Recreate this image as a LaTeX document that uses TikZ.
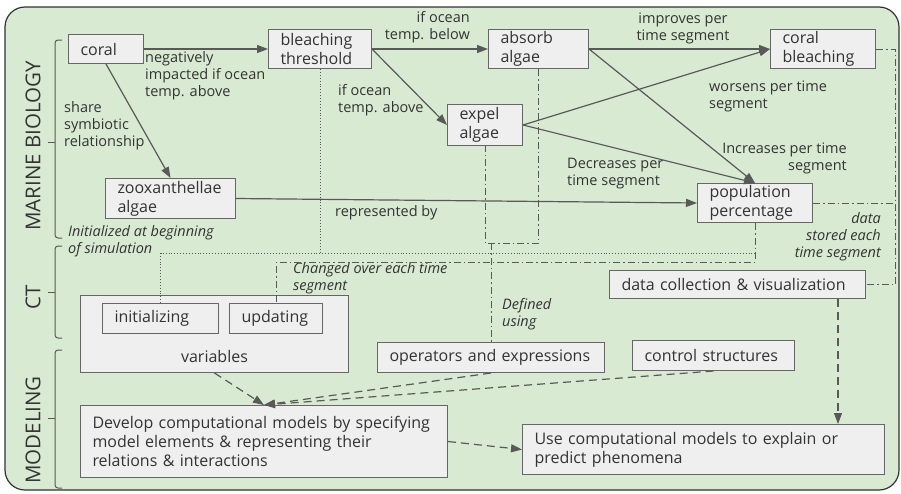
\documentclass[tikz,border=0pt]{standalone}
\usepackage{fontspec}
\setmainfont{Open Sans}
\usetikzlibrary{arrows.meta,positioning}

\definecolor{bgfill}{HTML}{D9EAD3}
\definecolor{boxfill}{HTML}{EFEFEF}
\definecolor{boxline}{HTML}{666666}
\definecolor{linkgray}{HTML}{595959}
\definecolor{textgray}{HTML}{333333}

\begin{document}
\begin{tikzpicture}[x=1pt, y=-1pt, % pixel grid, y grows downwards
    box/.style={draw=boxline, line width=1pt, fill=boxfill, anchor=north west,
      inner xsep=12pt, inner ysep=0pt, align=left, text=textgray,
      font=\fontsize{16}{19}\selectfont},
    lbl/.style={inner sep=0pt, align=left, text=textgray,
      font=\fontsize{14.5}{17}\selectfont},
    note/.style={lbl, font=\fontsize{14.5}{17}\selectfont\itshape},
    side/.style={inner sep=0pt, rotate=90, text=textgray,
      font=\fontsize{20.5}{24}\selectfont},
    link/.style={draw=linkgray, line width=1.2pt, -{Triangle[length=11pt,width=8pt]}},
    dlink/.style={link, dash pattern=on 8pt off 5pt},
    dotlink/.style={draw=linkgray, line width=0.9pt, dotted},
    dashdot/.style={draw=linkgray, line width=0.9pt, dash pattern=on 7pt off 3pt on 1.5pt off 3pt},
    brace/.style={draw=linkgray, line width=1pt, rounded corners=3pt}
  ]

  \useasboundingbox (0,0) rectangle (901,493);

  % Background panel
  \draw[fill=bgfill, draw=textgray, line width=1.2pt, rounded corners=20pt] (5,7) rectangle (899,490);

  % Side labels and braces
  \node[side] (mbio) at (33,146) {MARINE BIOLOGY};
  \node[side] (ct)   at (33,297) {CT};
  \node[side] (mdl)  at (33,430) {MODELING};

  \draw[brace] (62,40) -- (55,40) -- (55,238) -- (62,238);
  \draw[brace] (55,142) -- (48,142);
  \draw[brace] (62,246) -- (55,246) -- (55,338) -- (62,338);
  \draw[brace] (55,292) -- (48,292);
  \draw[brace] (62,350) -- (55,350) -- (55,488) -- (62,488);
  \draw[brace] (55,418) -- (48,418);

  % Marine biology boxes
  \node[box, text width=51pt, minimum height=29pt] (coral) at (68,34) {coral};
  \node[box, text width=79pt, minimum height=39pt] (bthr) at (268,29) {bleaching\\threshold};
  \node[box, text width=76pt, minimum height=39pt] (absorb) at (488,29) {absorb\\algae};
  \node[box, text width=81pt, minimum height=39pt] (cblch) at (770,29) {coral\\bleaching};
  \node[box, text width=51pt, minimum height=41pt] (expel) at (447,104) {expel\\algae};
  \node[box, text width=106pt, minimum height=40pt] (zoox) at (105,178) {zooxanthellae\\algae};
  \node[box, text width=91pt, minimum height=39pt] (pop) at (697,183) {population\\percentage};

  % CT boxes
  \node[box, text width=232pt, minimum height=28pt] (dcv) at (609,270) {data collection \& visualization};
  \node[box, minimum width=268pt, minimum height=77pt] (vars) at (80,295) {};
  \node[lbl, above=10pt of vars.south] (varslbl) {\fontsize{16}{19}\selectfont variables};
  \node[box, text width=92pt, minimum height=30pt] (init) at (102,303) {initializing};
  \node[box, text width=69pt, minimum height=30pt] (upd) at (229,303) {updating};
  \node[box, text width=203pt, minimum height=30pt] (ops) at (377,342) {operators and expressions};
  \node[box, text width=138pt, minimum height=30pt] (ctrl) at (632,340) {control structures};

  % Modeling boxes
  \node[box, text width=343pt, minimum height=72pt] (dev) at (80,405)
    {Develop computational models by specifying\\model elements \& representing their\\relations \& interactions};
  \node[box, text width=338pt, minimum height=50pt] (use) at (522,424)
    {Use computational models to explain or\\predict phenomena};

  % Link labels
  \node[lbl, anchor=west] (negl) at (145,76) {negatively\\impacted if ocean\\temp. above};
  \node[lbl, anchor=west] (sharel) at (64,126) {share\\symbiotic\\relationship};
  \node[lbl, anchor=east, align=right] (belowl) at (470,27) {if ocean\\temp. below};
  \node[lbl, anchor=west] (abovel) at (338,100) {if ocean\\temp. above};
  \node[lbl, align=center] (impl) at (683,28) {improves per\\time segment};
  \node[lbl, anchor=west] (worsl) at (709,96) {worsens per time\\segment};
  \node[lbl, anchor=east, align=right] (incl) at (847,158) {Increases per time\\segment};
  \node[lbl, anchor=west] (decl) at (567,174) {Decreases per\\time segment};
  \node[lbl, anchor=west] (repl) at (335,213) {represented by};
  \node[note, anchor=west] (initl) at (68,241) {Initialized at beginning\\of simulation};
  \node[note, anchor=west] (chgl) at (293,278) {Changed over each time\\segment};
  \node[note, anchor=west] (defl) at (502,314) {Defined\\using};
  \node[note, anchor=east, align=right] (datal) at (881,237) {data\\stored each\\time segment};

  % Helper rows and columns
  \coordinate (defrow) at (0,243);
  \coordinate (dotrow) at (0,253);
  \coordinate (chgrow) at (0,262);
  \coordinate (rside) at (895,0);
  \coordinate (dcvdrop) at (838,0);

  % Dotted and dash-dot links
  \draw[dotlink] (bthr.south) -- (bthr.south |- dotrow);
  \draw[dotlink] (init.north) -- (init.north |- dotrow) -- (pop.south |- dotrow);
  \draw[dashdot] (pop.south) -- (pop.south |- chgrow) -- (upd.north |- chgrow) -- (upd.north);
  \draw[dashdot] (absorb.south) -- (absorb.south |- defrow) -- (expel.south |- defrow) -- (expel.south);
  \draw[dashdot] (ops.north |- defrow) -- (ops.north);
  \draw[dashdot] (cblch.east) -- (cblch.east -| rside) -- (dcv.east -| rside) -- (dcv.east);
  \draw[dashdot] (pop.east) -- (pop.east -| rside);

  % Solid arrows
  \draw[link] (coral.east) -- (bthr.west);
  \draw[link] (coral.south) -- (zoox.north);
  \draw[link] (bthr.east) -- (absorb.west);
  \draw[link] (bthr.east) -- (expel.west);
  \draw[link] (absorb.east) -- (cblch.west);
  \draw[link] (absorb.east) -- (pop.north);
  \draw[link] (expel.east) -- (cblch.west);
  \draw[link] (expel.east) -- (pop.north);
  \draw[link] (zoox.east) -- (pop.west);

  % Dashed arrows
  \draw[dlink] (vars.south) -- (dev.north);
  \draw[dlink] (ops.south) -- (dev.north);
  \draw[dlink] (ctrl.south) -- (dev.north);
  \draw[dlink] (dev.east) -- (use.west);
  \draw[dlink] (dcv.south -| dcvdrop) -- (use.north -| dcvdrop);

\end{tikzpicture}
\end{document}
